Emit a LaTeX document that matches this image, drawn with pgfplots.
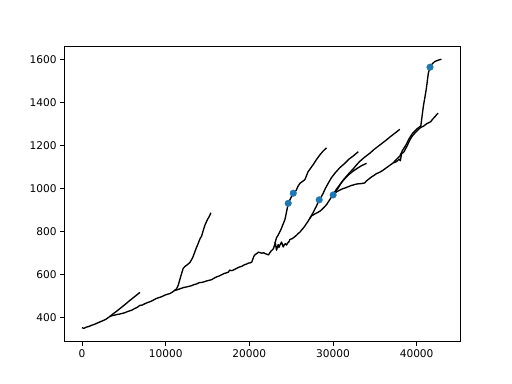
\documentclass[border=0pt]{standalone}
\usepackage{fontspec}
\setmainfont{DejaVu Sans}
\usepackage{pgfplots}
\pgfplotsset{compat=1.18}
\definecolor{tabblue}{HTML}{1F77B4}
\begin{document}
\begin{tikzpicture}
\begin{axis}[
  at={(0,0)}, anchor=south west,
  scale only axis, width=396.8bp, height=295.7bp,
  xmin=-2155, xmax=45280, ymin=286, ymax=1661,
  xtick={0,10000,20000,30000,40000},
  ytick={400,600,800,1000,1200,1400,1600},
  scaled x ticks=false, scaled y ticks=false,
  /pgf/number format/1000 sep={},
  /pgf/number format/assume math mode=true,
  tick label style={font=\fontsize{10.6bp}{12bp}\selectfont},
  xtick pos=left, ytick pos=left, tick align=outside,
  major tick length=3.9bp,
  every tick/.style={black, line width=0.89bp},
  axis line style={line width=0.89bp},
  clip=true,
  trk/.style={black, no markers, line width=1.35bp, line join=round},
]
\addplot[only marks, mark=*, mark size=3.3bp, color=tabblue, mark options={draw=tabblue, fill=tabblue}] coordinates {
(24650,930) (25250,977) (28350,946) (30020,969) (41600,1563)
};
% trunk
\addplot[trk] coordinates {
(0,352) (200,348) (500,354) (800,357) (1100,362) (1400,366) (1700,371) (2000,376) (2300,381) (2600,386)
(2900,392) (3300,403) (3600,408) (3900,410) (4200,413) (4500,415) (4800,418) (5100,421) (5400,426) (5700,430)
(6000,434) (6300,441) (6600,446) (6900,455) (7200,457) (7500,463) (7800,468) (8100,472) (8400,477) (8700,484)
(9000,489) (9300,493) (9600,497) (9900,503) (10200,507) (10500,510) (10800,517) (11030,524) (11300,527) (11600,531)
(11900,535) (12200,539) (12500,541) (12800,544) (13100,547) (13400,552) (13700,555) (14000,561) (14300,562) (14600,565)
(14900,569) (15200,572) (15500,575) (15800,582) (16100,588) (16400,592) (16700,598) (17000,604) (17300,607) (17500,610)
(17650,620) (17800,617) (18000,618) (18300,624) (18600,630) (18900,635) (19100,637) (19400,644) (19700,648) (19900,652)
(20100,653) (20300,657) (20450,674) (20600,688) (20800,694) (21100,703) (21300,700) (21500,698) (21700,700) (21900,696)
(22100,693) (22300,690) (22450,700) (22600,708) (22800,715) (22900,721) (23100,748) (23250,712) (23450,738) (23550,725)
(23650,735) (23850,750) (24050,727) (24200,738) (24300,742) (24450,736) (24600,746) (24750,752) (24850,762) (25100,765)
(25450,775) (25650,782) (25850,790) (26050,796) (26250,806) (26450,815) (26600,822) (26850,837) (27000,845) (27200,858)
(27440,872) (27650,876) (27900,882) (28150,887) (28430,893) (28700,902) (29000,914) (29250,925) (29500,940) (29750,955)
(30020,969) (30250,978) (30500,985) (30750,990) (31000,995) (31250,999) (31500,1002) (31750,1006) (32000,1010) (32200,1013)
(32420,1015) (32650,1018) (32900,1020) (33150,1021) (33400,1022) (33600,1023) (33810,1025) (34000,1034) (34200,1040) (34450,1048)
(34700,1055) (34950,1061) (35200,1068) (35450,1072) (35700,1077) (35950,1083) (36200,1090) (36450,1097) (36700,1104) (36950,1111)
(37200,1118) (37400,1121) (37600,1124) (37900,1135) (38050,1128) (38200,1160) (38350,1165) (38500,1170) (38700,1185) (38900,1200)
(39050,1213) (39200,1225) (39400,1238) (39600,1248) (39800,1257) (40000,1265) (40200,1273) (40400,1280) (40600,1285) (40800,1288)
(41000,1294) (41200,1300) (41450,1305) (41700,1310) (41850,1318) (42000,1325) (42200,1333) (42380,1342) (42570,1349)
};
% branch near 3300
\addplot[trk] coordinates {(3300,403) (3750,417) (4200,430) (4650,444) (5100,458) (5550,473) (6000,487) (6450,501) (6930,516)};
% branch near 11000
\addplot[trk] coordinates {
(11030,524) (11300,532) (11510,550) (11800,590) (12100,628) (12300,636) (12500,642) (12700,648) (12900,655) (13200,675)
(13500,705) (13650,722) (13800,735) (14100,765) (14300,778) (14500,805) (14700,829) (15000,855) (15200,868) (15410,886)
};
% branch near 23000
\addplot[trk] coordinates {
(23060,744) (23250,770) (23460,783) (23650,798) (23800,810) (24000,830) (24250,853) (24500,900) (24650,931) (24900,950)
(25250,977) (25600,990) (25800,1008) (26050,1023) (26300,1030) (26640,1040) (27000,1075) (27300,1092) (27640,1110) (28000,1132)
(28430,1155) (28800,1172) (29230,1188)
};
% branch through 28350
\addplot[trk] coordinates {
(27200,858) (27600,885) (28000,915) (28350,946) (28600,960) (28830,977) (29100,1000) (29430,1023) (29800,1048) (30230,1070)
(30800,1095) (31420,1116) (31900,1135) (32420,1150) (33030,1170)
};
% branch ending 34000
\addplot[trk] coordinates {
(30020,969) (30300,985) (30600,1000) (30900,1020) (31200,1035) (31500,1048) (31800,1060) (32100,1070) (32420,1080) (33000,1095)
(33420,1105) (34010,1116)
};
% branch ending 38000
\addplot[trk] coordinates {
(30020,969) (30400,995) (30800,1015) (31200,1037) (31600,1055) (32000,1073) (32420,1090) (32800,1108) (33200,1125) (33800,1145)
(34410,1163) (34900,1180) (35400,1195) (35900,1210) (36400,1225) (36800,1238) (37200,1250) (37600,1262) (37990,1274)
};
% steep branch near 41000
\addplot[trk] coordinates {
(37200,1118) (37600,1135) (38000,1150) (38300,1175) (38700,1200) (39100,1230) (39500,1255) (40000,1275)
(40500,1290) (40800,1380) (41150,1460) (41400,1535) (41600,1563) (41900,1580) (42170,1589) (42600,1596) (42970,1600)
};
\end{axis}
\path[use as bounding box] (-64bp,-42.2bp) rectangle (448bp,341.8bp);
\end{tikzpicture}
\end{document}
